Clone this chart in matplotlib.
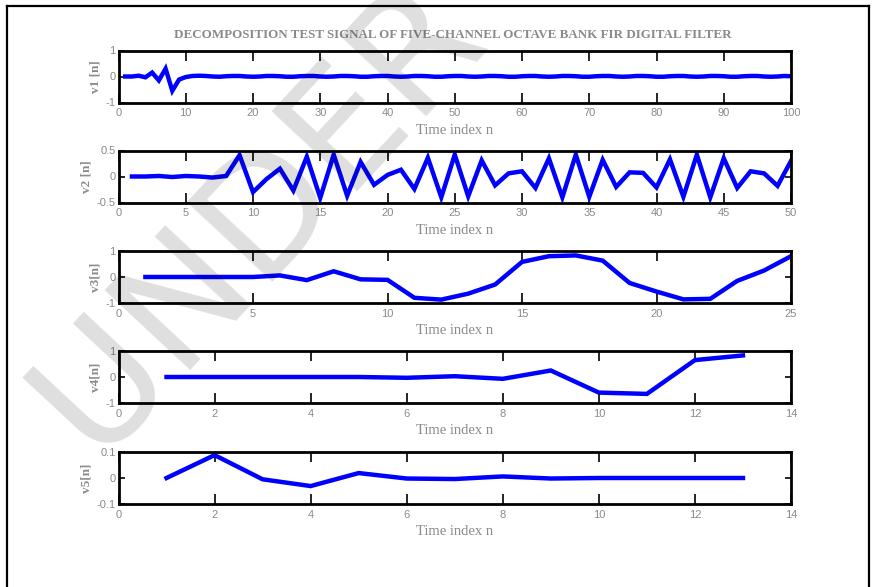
import matplotlib
matplotlib.use('Agg')
import matplotlib.pyplot as plt
from matplotlib.lines import Line2D
import numpy as np

# signal values
v1 = [0.00, 0.00, 0.03, -0.03, 0.15, -0.15, 0.30, -0.55, -0.12, -0.02,
      0.02, 0.03, 0.02, 0.00, -0.01, 0.01, 0.02, 0.02, 0.00, -0.01,
      0.00, 0.02, 0.02, 0.01, -0.01, -0.01, 0.01, 0.02, 0.02, 0.00,
      -0.01, 0.00, 0.02, 0.02, 0.01, -0.01, -0.01, 0.01, 0.02, 0.02,
      0.00, -0.01, 0.00, 0.02, 0.02, 0.01, -0.01, -0.01, 0.01, 0.02,
      0.02, 0.00, -0.01, 0.00, 0.02, 0.02, 0.01, -0.01, -0.01, 0.01,
      0.02, 0.02, 0.00, -0.01, 0.00, 0.02, 0.02, 0.01, -0.01, -0.01,
      0.01, 0.02, 0.02, 0.00, -0.01, 0.00, 0.02, 0.02, 0.01, -0.01,
      -0.01, 0.01, 0.02, 0.02, 0.00, -0.01, 0.00, 0.02, 0.02, 0.01,
      -0.01, -0.01, 0.01, 0.02, 0.02, 0.00, -0.01, 0.00, 0.02, 0.01]
v2 = [0.00, 0.00, 0.01, -0.01, 0.01, 0.00, -0.02, 0.01, 0.41, -0.30,
      -0.05, 0.15, -0.27, 0.38, -0.41, 0.42, -0.37, 0.28, -0.16, 0.03,
      0.13, -0.24, 0.36, -0.40, 0.42, -0.38, 0.31, -0.17, 0.06, 0.10,
      -0.22, 0.35, -0.40, 0.42, -0.39, 0.32, -0.20, 0.08, 0.07, -0.21,
      0.33, -0.39, 0.42, -0.40, 0.35, -0.22, 0.10, 0.06, -0.18, 0.30]
v3 = [0.00, 0.00, 0.00, 0.00, 0.00, 0.06, -0.12, 0.22, -0.09, -0.11,
      -0.80, -0.87, -0.64, -0.29, 0.58, 0.80, 0.83, 0.63, -0.23, -0.56,
      -0.86, -0.84, -0.15, 0.25, 0.80]
v4 = [0.00, 0.00, 0.00, 0.00, 0.00, -0.03, 0.03, -0.07, 0.25, -0.60,
      -0.65, 0.65, 0.83]
v5 = [0.000, 0.088, -0.005, -0.031, 0.019, -0.002, -0.004, 0.006, -0.002,
      0.000, 0.000, 0.000, 0.000]

signals = [v1, v2, v3, v4, v5]
ylabels = ['v1 [n]', 'v2 [n]', 'v3[n]', 'v4[n]', 'v5[n]']
xlims = [100, 50, 25, 14, 14]
xsteps = [10, 5, 5, 2, 2]
ylims = [1, 0.5, 1, 1, 0.1]
ytick_labels = [['-1', '0', '1'], ['-0.5', '0', '0.5'], ['-1', '0', '1'],
                ['-1', '0', '1'], ['-0.1', '0', '0.1']]
title = 'DECOMPOSITION TEST SIGNAL OF FIVE-CHANNEL OCTAVE BANK FIR DIGITAL FILTER'
watermark = 'UNDER PEER REVIEW'

gray = '#8a8a8a'
W, H = 872, 587
fig = plt.figure(figsize=(W / 100, H / 100), dpi=100)
fig.patch.set_facecolor('white')

tops = [50.5, 150.5, 251, 351, 452]
ax_h = 52
left, right = 118.5, 791

for i in range(5):
    ax = fig.add_axes([left / W, 1 - (tops[i] + ax_h) / H, (right - left) / W, ax_h / H])
    n = np.arange(1, len(signals[i]) + 1)
    ax.plot(n, signals[i], color='#0000ff', lw=3.2, solid_joinstyle='miter')
    ax.set_xlim(0, xlims[i])
    ax.set_ylim(-ylims[i], ylims[i])
    ax.set_xticks(np.arange(0, xlims[i] + 0.1, xsteps[i]))
    ax.set_yticks([-ylims[i], 0, ylims[i]])
    ax.set_yticklabels(ytick_labels[i])
    ax.tick_params(direction='in', top=True, right=True, length=7, width=1.2,
                   color='black', labelcolor=gray, labelsize=8, pad=4)
    ax.tick_params(axis='y', length=4, pad=2)
    for lab in ax.get_xticklabels() + ax.get_yticklabels():
        lab.set_fontfamily('Liberation Sans')
    for s in ax.spines.values():
        s.set_linewidth(2)
        s.set_color('black')
    ax.set_xlabel('Time index n', family='Liberation Serif', fontsize=10.5,
                  color=gray, labelpad=4)
    ax.set_ylabel(ylabels[i], family='Liberation Serif', fontweight='bold',
                  fontsize=9.5, color=gray, labelpad=3)

fig.text(453 / W, 1 - 35 / H, title, ha='center', va='center',
         family='Liberation Serif', fontweight='bold', fontsize=9.4, color=gray)

# outer frame
bx0, bx1, by0 = 6.5 / W, 869 / W, 1 - 5.5 / H
for xs, ys in [([bx0, bx0], [0, by0]), ([bx0, bx1], [by0, by0]), ([bx1, bx1], [0, by0])]:
    fig.add_artist(Line2D(xs, ys, transform=fig.transFigure, color='black', lw=1.6))

# watermark
fig.text(100 / W, 1 - 468 / H, watermark, rotation=47, ha='left', va='baseline',
         family='DejaVu Sans', fontsize=116,
         color='black', alpha=0.13, rotation_mode='anchor', zorder=10)

fig.savefig('out.png', dpi=100)
